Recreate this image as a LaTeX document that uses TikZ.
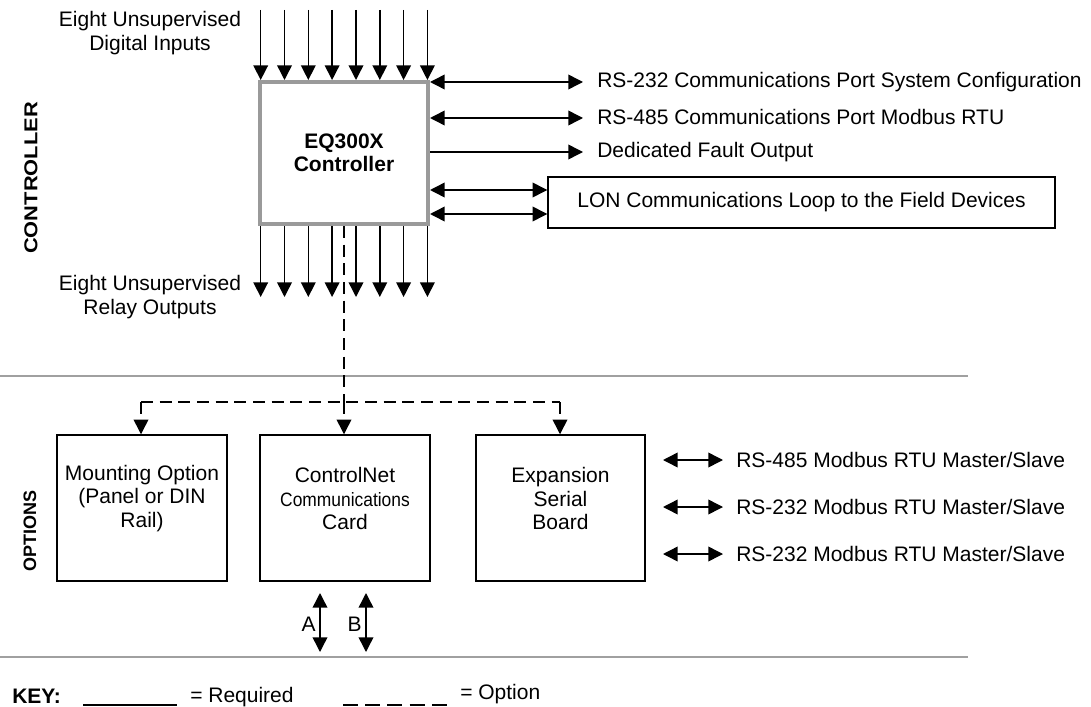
\documentclass[tikz,border=0pt]{standalone}
\usepackage{fontspec}
\setmainfont{Liberation Sans}
\usetikzlibrary{arrows.meta}
\definecolor{sepgray}{HTML}{A0A0A0}
\definecolor{boxgray}{HTML}{9A9A9A}
\newcommand\fsz{\fontsize{15.75}{17.6}\selectfont}
\tikzset{
  lbl/.style={font=\fsz, inner sep=0pt},
  bl/.style={font=\fsz\bfseries, inner sep=0pt},
  tip/.tip={Triangle[length=11pt,width=11pt]},
  arr/.style={line width=1.1pt, -tip},
  darr/.style={line width=1.1pt, tip-tip},
  dline/.style={line width=1.1pt, dash pattern=on 9pt off 5pt},
  sep/.style={draw=sepgray, line width=1.5pt},
  optbox/.style={draw, line width=1.1pt, minimum width=127.5pt, minimum height=109.5pt},
}
\begin{document}
\begin{tikzpicture}[x=0.75pt, y=-0.75pt]
\useasboundingbox (0,0) rectangle (1091,706);

% separators
\draw[sep] (0,376) -- (968,376);
\draw[sep] (0,657) -- (968,657);

% side labels
\node[bl, rotate=90, font=\fontsize{14}{16}\bfseries] (lctrl) at (31,178) {\scalebox{1.17}[1]{CONTROLLER}};
\node[bl, rotate=90, font=\fontsize{13.5}{16}\bfseries] (lopt) at (30,531) {OPTIONS};

% main controller box
\node[draw=boxgray, line width=3pt, minimum width=126pt, minimum height=106.5pt,
      font=\fsz\bfseries, align=center] (ctrl) at (344,153) {EQ300X\\Controller};

% inputs
\node[lbl, align=center] (inl) at (150,33) {Eight Unsupervised\\Digital Inputs};
\foreach \i/\x in {1/260.7,2/284.5,3/308.3,4/332.1,5/356,6/379.8,7/403.6,8/427.4}{
  \coordinate (in\i) at (\x,10);
  \draw[arr] (in\i) -- (in\i |- ctrl.north);
  \coordinate (out\i) at (\x,297);
  \draw[arr] (out\i |- ctrl.south) -- (out\i);
}
\node[lbl, align=center] (outl) at (150,297) {Eight Unsupervised\\Relay Outputs};

% right side ports
\node[lbl, anchor=west] (t232) at (597,82) {RS-232 Communications Port System Configuration};
\node[lbl, anchor=west] (t485) at (597,117) {RS-485 Communications Port Modbus RTU};
\node[lbl, anchor=west] (tflt) at (597,152) {Dedicated Fault Output};
\coordinate (e232) at (583,82);
\coordinate (e485) at (583,118);
\coordinate (eflt) at (583,152);
\draw[darr] (ctrl.east |- e232) -- (e232);
\draw[darr] (ctrl.east |- e485) -- (e485);
\draw[arr] (ctrl.east |- eflt) -- (eflt);

\node[draw, line width=1.1pt, minimum width=380.25pt, minimum height=38.25pt, font=\fsz]
  (lon) at (801.5,202.5) {LON Communications Loop to the Field Devices};
\draw[darr] (ctrl.east |- 0,190) -- (lon.west |- 0,190);
\draw[darr] (ctrl.east |- 0,214) -- (lon.west |- 0,214);

% options boxes
\node[optbox] (mount) at (142,508) {};
\node[optbox] (cnet) at (345,508) {};
\node[optbox, minimum width=126.75pt] (exp) at (560.5,508) {};
\node[lbl, align=center] (mountt) at (142,498.5) {Mounting Option\\(Panel or DIN\\Rail)};
\node[lbl, align=center] (cnett) at (345,498.5) {ControlNet\\{\fontsize{14.5}{17.6}\selectfont\scalebox{0.9}[1]{Communications}}\\Card};
\node[lbl, align=center] (expt) at (560.5,498.5) {Expansion\\Serial\\Board};

% dashed option connections
\coordinate (j) at (344,402);
\coordinate (jl) at (141,402);
\coordinate (jr) at (560,402);
\draw[dline] (ctrl.south) -- (j);
\draw[dline] (jl) -- (jr);
\draw[dline, -tip] (jl) -- (jl |- mount.north);
\draw[dline, -tip] (j) -- (j |- cnet.north);
\draw[dline, -tip] (jr) -- (jr |- exp.north);

% expansion serial ports
\foreach \i/\y/\t in {1/460/{RS-485 Modbus RTU Master/Slave},2/507/{RS-232 Modbus RTU Master/Slave},3/554/{RS-232 Modbus RTU Master/Slave}}{
  \coordinate (sa\i) at (663,\y);
  \coordinate (sb\i) at (723,\y);
  \draw[darr] (sa\i) -- (sb\i);
  \node[lbl, anchor=west] (st\i) at (736,\y) {\t};
}

% A / B
\coordinate (a1) at (320,593);
\coordinate (a2) at (320,652);
\coordinate (b1) at (366,593);
\coordinate (b2) at (366,652);
\draw[darr] (a1) -- (a2);
\draw[darr] (b1) -- (b2);
\node[lbl, anchor=east] (la) at (316,624) {A};
\node[lbl, anchor=east] (lb) at (362,624) {B};

% key
\node[bl, anchor=west] (key) at (12,696) {KEY:};
\coordinate (k1) at (83,705);
\coordinate (k2) at (177,705);
\draw[line width=1pt] (k1) -- (k2);
\node[lbl, anchor=west] (req) at (190,697) {= Required};
\coordinate (k3) at (343,705);
\coordinate (k4) at (447,705);
\draw[line width=1pt, dash pattern=on 11.25pt off 5.4pt] (k3) -- (k4);
\node[lbl, anchor=west] (opt) at (460,694) {= Option};
\end{tikzpicture}
\end{document}
